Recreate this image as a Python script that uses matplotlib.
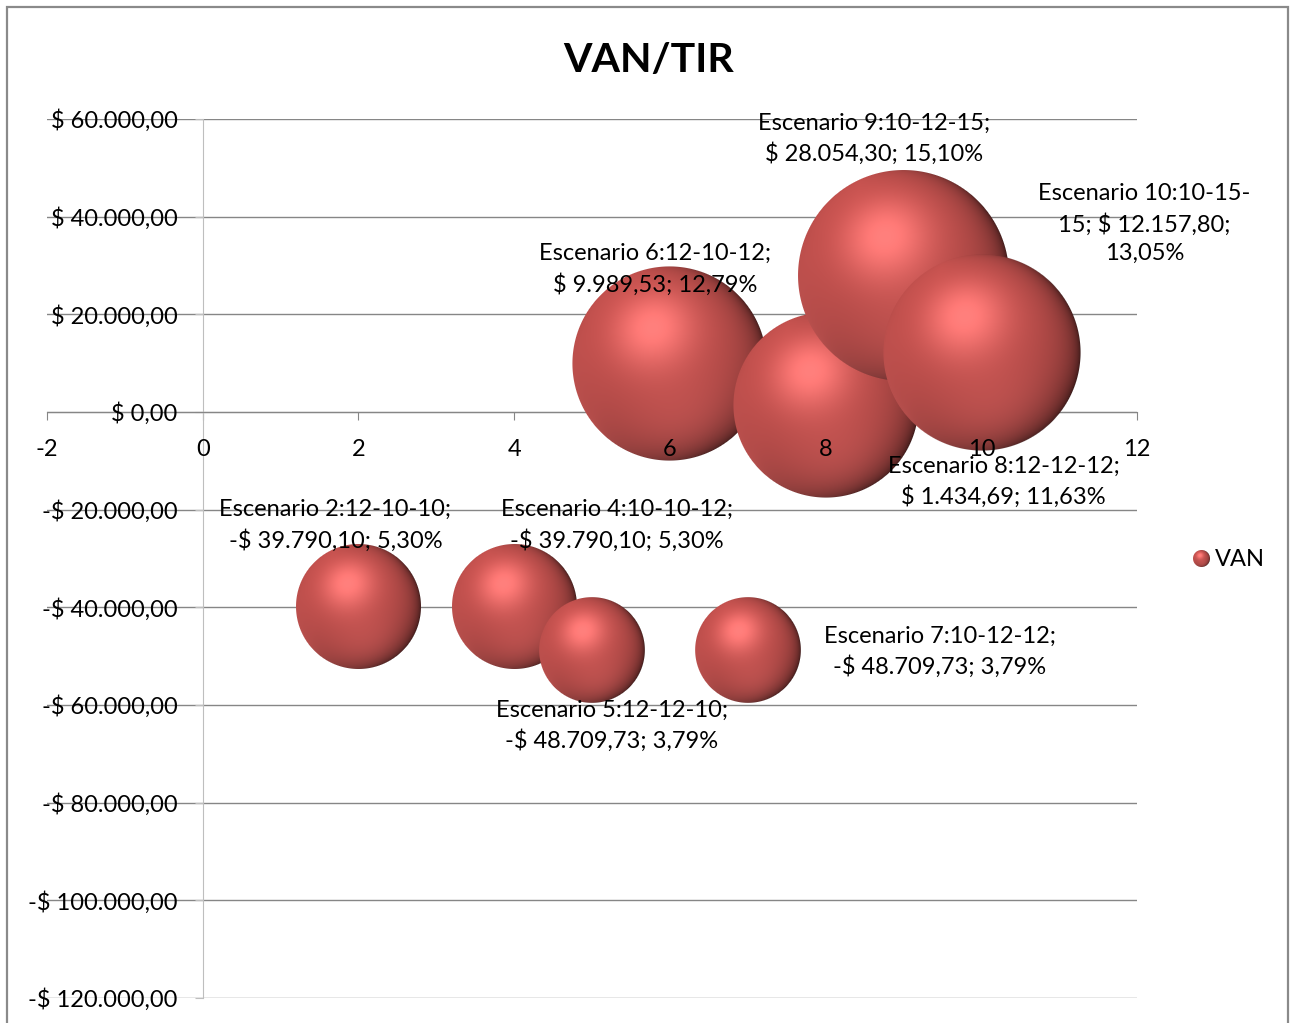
import re

import matplotlib
matplotlib.use("Agg")
import matplotlib.pyplot as plt
import numpy as np
from matplotlib.offsetbox import AnnotationBbox, OffsetImage
from matplotlib.patches import Rectangle
from matplotlib.ticker import FuncFormatter, MultipleLocator

plt.rcParams["font.family"] = ["Lato", "DejaVu Sans"]
plt.rcParams["axes.unicode_minus"] = False

# Scenario data: x = scenario number, y = VAN, bubble size = TIR (%)
escenarios = [2, 4, 5, 6, 7, 8, 9, 10]
codigos = ["12-10-10", "10-10-12", "12-12-10", "12-10-12", "10-12-12", "12-12-12", "10-12-15", "10-15-15"]
van = [-39790.10, -39790.10, -48709.73, 9989.53, -48709.73, 1434.69, 28054.30, 12157.80]
tir = [5.30, 5.30, 3.79, 12.79, 3.79, 11.63, 15.10, 13.05]

# label placement relative to each bubble centre, in pixels (dx right, dy up)
label_offsets = [(-23, 81), (103, 81), (20, -76), (-15, 94), (192, -2), (178, -77), (-29, 136), (163, 129)]

FIG_W, FIG_H = 1290, 1023
AX_LEFT, AX_RIGHT, AX_TOP, AX_BOTTOM = 47, 1137, 119, 998
BASE = np.array([192, 80, 77]) / 255
FONT_SIZE = 17
GRID_COLOR = "#868686"


def pesos(v, pos=None):
    s = f"{abs(v):,.2f}".replace(",", "X").replace(".", ",").replace("X", ".")
    return ("-$ " if v < 0 else "$ ") + s


def porcentaje(t):
    return f"{t:.2f}".replace(".", ",") + "%"


def wrap(txt, width=21):
    # greedy wrap that may also break after a hyphen between digits
    chunks = re.findall(r"\S*?-(?=\d)|\S+|\s+", txt)
    lines, line = [], ""
    for c in chunks:
        if line.strip() and len((line + c).rstrip()) > width:
            lines.append(line.rstrip())
            line = c.lstrip()
        else:
            line += c
    lines.append(line.rstrip())
    return "\n".join(lines)


def unit(v):
    v = np.asarray(v, dtype=float)
    return v / np.linalg.norm(v)


def sphere_rgba(diam):
    """Shaded glossy ball, diam in pixels."""
    n = int(np.ceil(diam)) + 2
    c = (n - 1) / 2
    r = diam / 2
    yy, xx = np.mgrid[0:n, 0:n]
    x = (xx - c) / r
    y = (c - yy) / r
    rr = x ** 2 + y ** 2
    z = np.sqrt(np.clip(1 - rr, 0, 1))

    l1 = unit([-0.31, 0.66, 0.68])
    h = unit(l1 + np.array([0, 0, 1.0]))
    l2 = unit([0.15, -0.6, 0.78])

    ndl = x * l1[0] + y * l1[1] + z * l1[2]
    body = 0.84 + 0.22 * ndl
    limb = (1 - z) ** 2 * np.clip(0.5 + 0.8 * x - 0.2 * y, 0, 1) * 0.68
    body = body * (1 - limb)
    spec = np.clip(x * h[0] + y * h[1] + z * h[2], 0, 1) ** 12
    refl = np.clip(x * l2[0] + y * l2[1] + z * l2[2], 0, 1) ** 6
    rim = np.clip(-0.7 * y - 0.3 * x, 0, 1) * (1 - z) ** 2

    rgb = (BASE[None, None, :] * body[..., None]
           + (0.25 * spec)[..., None] * np.array([1.0, 0.7, 0.7])
           + (0.08 * refl)[..., None] * np.array([0.9, 0.5, 0.5])
           + (0.22 * rim)[..., None] * np.array([0.8, 0.45, 0.45]))
    rgb = np.clip(rgb, 0, 1)
    alpha = np.clip((1 - np.sqrt(rr)) * r + 0.5, 0, 1)
    return np.dstack([rgb, alpha])


fig = plt.figure(figsize=(FIG_W / 100, FIG_H / 100), dpi=100)
pos = [AX_LEFT / FIG_W, 1 - AX_BOTTOM / FIG_H, (AX_RIGHT - AX_LEFT) / FIG_W, (AX_BOTTOM - AX_TOP) / FIG_H]
ax = fig.add_axes(pos)
ax.set_xlim(-2, 12)
ax.set_ylim(-120000, 60000)
ax.xaxis.set_major_locator(MultipleLocator(2))
ax.yaxis.set_major_locator(MultipleLocator(20000))
ax.set_axisbelow(True)
ax.grid(axis="y", color=GRID_COLOR, lw=1.0)
for side in ("top", "right"):
    ax.spines[side].set_visible(False)
ax.spines["left"].set_position(("data", 0))
ax.spines["bottom"].set_position(("data", 0))
ax.spines["left"].set_color("#BEBEBE")
ax.spines["bottom"].set_color(GRID_COLOR)
ax.tick_params(axis="both", direction="out", length=5.8, labelbottom=False, labelleft=False)
ax.tick_params(axis="x", color=GRID_COLOR)
ax.tick_params(axis="y", color="#BEBEBE")

# bubbles, drawn in data order so later points sit on top
ax_h_px = AX_BOTTOM - AX_TOP
d_max = 0.24 * ax_h_px
for i, (x, y, t) in enumerate(zip(escenarios, van, tir)):
    d = d_max * np.sqrt(t / max(tir))
    ab = AnnotationBbox(OffsetImage(sphere_rgba(d), zoom=1, dpi_cor=False), (x, y),
                        frameon=False, pad=0, zorder=3 + i * 0.01)
    ax.add_artist(ab)

# tick labels on a transparent overlay so they stay above the bubbles
ax2 = fig.add_axes(pos, sharex=ax, sharey=ax)
ax2.patch.set_visible(False)
for side in ("top", "right"):
    ax2.spines[side].set_visible(False)
for side in ("left", "bottom"):
    ax2.spines[side].set_position(("data", 0))
    ax2.spines[side].set_color("none")
ax2.yaxis.set_major_formatter(FuncFormatter(pesos))
ax2.tick_params(axis="both", direction="out", length=5.8, color="none", labelsize=FONT_SIZE)
ax2.tick_params(axis="y", pad=12.2)
ax2.tick_params(axis="x", pad=14)

# data labels
for x, y, cod, v, t, (dx, dy) in zip(escenarios, van, codigos, van, tir, label_offsets):
    txt = wrap(f"Escenario {x}:{cod}; {pesos(v)}; {porcentaje(t)}")
    ax2.annotate(txt, (x, y), xytext=(dx * 0.72, dy * 0.72), textcoords="offset points",
                 ha="center", va="center", multialignment="center", fontsize=FONT_SIZE,
                 linespacing=1.47, zorder=10)

# legend
leg = AnnotationBbox(OffsetImage(sphere_rgba(17), zoom=1, dpi_cor=False),
                     (1201 / FIG_W, 1 - 559 / FIG_H), xycoords="figure fraction",
                     frameon=False, pad=0)
fig.add_artist(leg)
fig.text(1215 / FIG_W, 1 - 559 / FIG_H, "VAN", ha="left", va="center", fontsize=FONT_SIZE)

fig.text(649 / FIG_W, 1 - 61 / FIG_H, "VAN/TIR", ha="center", va="center",
         fontsize=29.5, fontweight="bold")

# chart area border
fig.add_artist(Rectangle((7 / FIG_W, -0.05), (1288 - 7) / FIG_W, 1.05 - 7 / FIG_H,
                         transform=fig.transFigure, fill=False, ec="#8A8A8A", lw=1.6))

fig.savefig("out.png", dpi=100)
